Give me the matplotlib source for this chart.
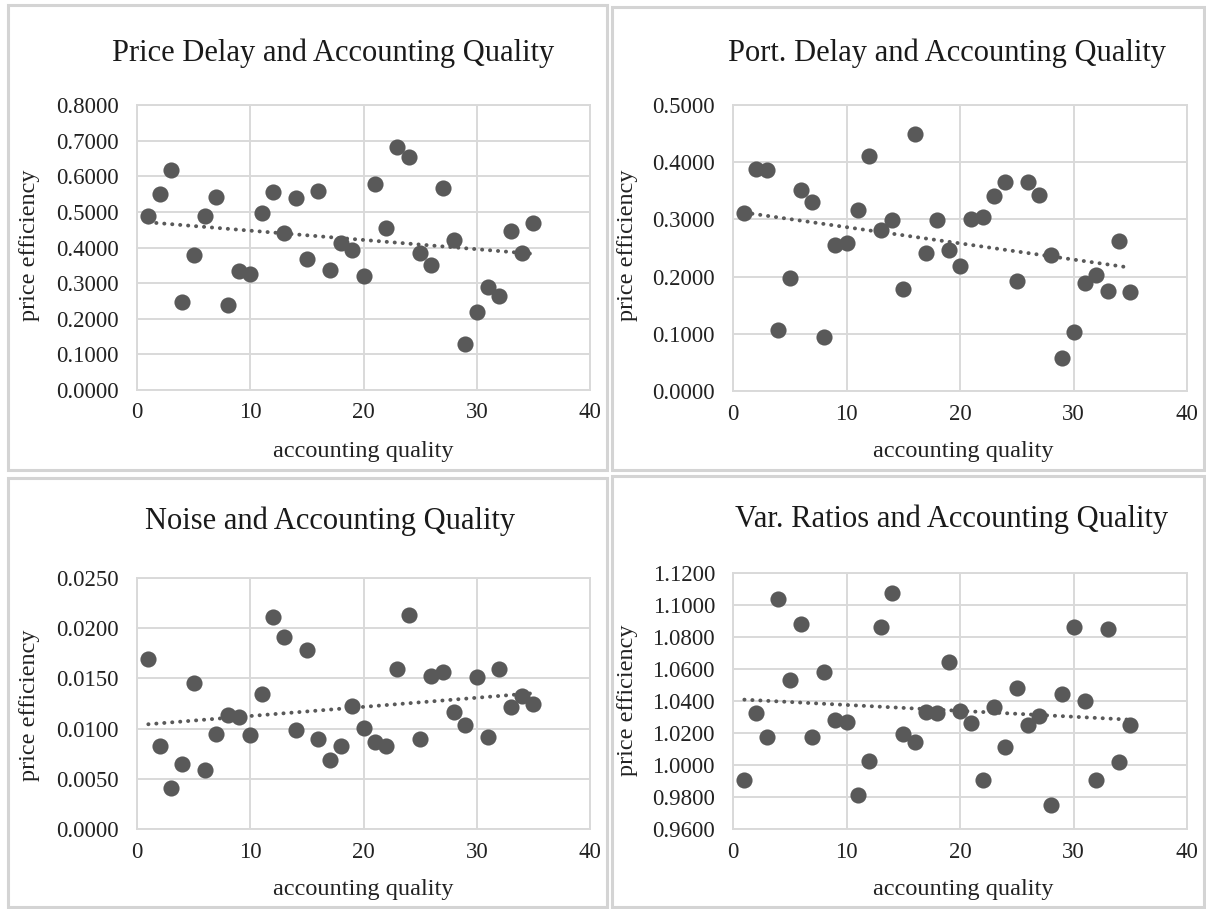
import numpy as np
import matplotlib
matplotlib.use("Agg")
import matplotlib.pyplot as plt
from matplotlib.patches import Rectangle
from matplotlib.ticker import FormatStrFormatter, MultipleLocator

plt.rcParams['font.family'] = ['Liberation Serif', 'DejaVu Serif']

# ---------------- data ----------------
accounting_quality = list(range(1, 36))

price_delay = [0.488, 0.549, 0.618, 0.247, 0.380, 0.489, 0.543, 0.240, 0.335, 0.327,
               0.496, 0.555, 0.440, 0.538, 0.367, 0.559, 0.338, 0.413, 0.394, 0.320,
               0.577, 0.454, 0.682, 0.654, 0.384, 0.352, 0.566, 0.420, 0.129, 0.219,
               0.290, 0.264, 0.447, 0.384, 0.468]

port_delay = [0.312, 0.388, 0.386, 0.107, 0.197, 0.351, 0.331, 0.094, 0.255, 0.258,
              0.316, 0.410, 0.281, 0.299, 0.179, 0.449, 0.242, 0.299, 0.247, 0.218,
              0.300, 0.305, 0.341, 0.366, 0.193, 0.366, 0.343, 0.238, 0.057, 0.103,
              0.189, 0.203, 0.174, 0.262, 0.173]

noise = [0.01694, 0.00826, 0.00409, 0.00649, 0.01458, 0.00586, 0.00949, 0.01135, 0.01112, 0.00935,
         0.01345, 0.02107, 0.01917, 0.00982, 0.01781, 0.00896, 0.00686, 0.00826, 0.01228, 0.01008,
         0.00869, 0.00826, 0.01594, 0.02130, 0.00896, 0.01525, 0.01568, 0.01162, 0.01035, 0.01512,
         0.00912, 0.01594, 0.01212, 0.01325, 0.01245]

var_ratios = [0.9907, 1.0327, 1.0177, 1.1040, 1.0531, 1.0884, 1.0177, 1.0583, 1.0282, 1.0271,
              0.9814, 1.0024, 1.0863, 1.1072, 1.0192, 1.0146, 1.0333, 1.0327, 1.0645, 1.0340,
              1.0261, 0.9907, 1.0365, 1.0111, 1.0483, 1.0250, 1.0306, 0.9752, 1.0444, 1.0863,
              1.0400, 0.9907, 1.0853, 1.0018, 1.0250]

titles = ["Price Delay and Accounting Quality", "Port. Delay and Accounting Quality",
          "Noise and Accounting Quality", "Var. Ratios and Accounting Quality"]
x_label = "accounting quality"
y_label = "price efficiency"
x_ticks = [0, 10, 20, 30, 40]
y_ranges = [(0.0, 0.8, 0.1), (0.0, 0.5, 0.1), (0.0, 0.025, 0.005), (0.96, 1.12, 0.02)]
series = [price_delay, port_delay, noise, var_ratios]

# ---------------- layout (pixels) ----------------
W, H = 1206, 909
fig = plt.figure(figsize=(W / 100, H / 100), dpi=100)

def fx(px):
    return px / W

def fy(py):
    return 1 - py / H

boxes = [(8, 5, 607, 470), (612, 7, 1204, 470), (8, 478, 607, 907), (612, 476, 1204, 907)]
for (x0, y0, x1, y1) in boxes:
    fig.patches.append(Rectangle((fx(x0), fy(y1)), fx(x1) - fx(x0), fy(y0) - fy(y1),
                                 transform=fig.transFigure, fill=False,
                                 edgecolor='#d4d4d4', linewidth=2.2))

plot_areas = [(137, 105, 590, 390), (733, 105, 1187, 391),
              (137, 578, 590, 829), (733, 573, 1187, 829)]
title_pos = [(333, 53), (947, 53), (330, 521), (952, 519)]
ylab_pos = [(30, 245), (628, 245), (30, 705), (628, 700)]
xlab_pos = [(363, 452), (963, 452), (363, 890), (963, 890)]

grid_c = '#d9d9d9'
mark_c = '#595959'

for i in range(4):
    l, t, r, b = plot_areas[i]
    ax = fig.add_axes([fx(l), fy(b), fx(r) - fx(l), fy(t) - fy(b)])
    y = np.array(series[i])
    x = np.array(accounting_quality)
    ax.scatter(x, y, s=135, color=mark_c, zorder=3, linewidths=0)
    k, c = np.polyfit(x, y, 1)
    xs = np.array([x.min(), x.max()])
    ax.plot(xs, k * xs + c, color=mark_c, linewidth=2.8,
            linestyle=(0, (0.05, 2.0)), dash_capstyle='round', zorder=2)
    y0, y1, step = y_ranges[i]
    ax.set_xlim(0, 40)
    ax.set_ylim(y0, y1)
    ax.set_xticks(x_ticks)
    ax.yaxis.set_major_locator(MultipleLocator(step))
    ax.yaxis.set_major_formatter(FormatStrFormatter('%.4f'))
    ax.grid(True, color=grid_c, linewidth=1.4, zorder=0)
    ax.set_axisbelow(True)
    for sp in ax.spines.values():
        sp.set_color(grid_c)
        sp.set_linewidth(1.4)
    ax.tick_params(length=0, labelsize=16.5, colors='#222222', pad=13)
    ax.tick_params(axis='x', pad=9)
    fig.text(fx(title_pos[i][0]), fy(title_pos[i][1]), titles[i], ha='center', va='center',
             fontsize=22, color='#1a1a1a')
    fig.text(fx(ylab_pos[i][0]), fy(ylab_pos[i][1]), y_label, ha='center', va='center',
             rotation=90, fontsize=17.5, color='#222222')
    fig.text(fx(xlab_pos[i][0]), fy(xlab_pos[i][1]), x_label, ha='center', va='center',
             fontsize=17.5, color='#222222')

fig.savefig("out.png", dpi=100, facecolor='white')
